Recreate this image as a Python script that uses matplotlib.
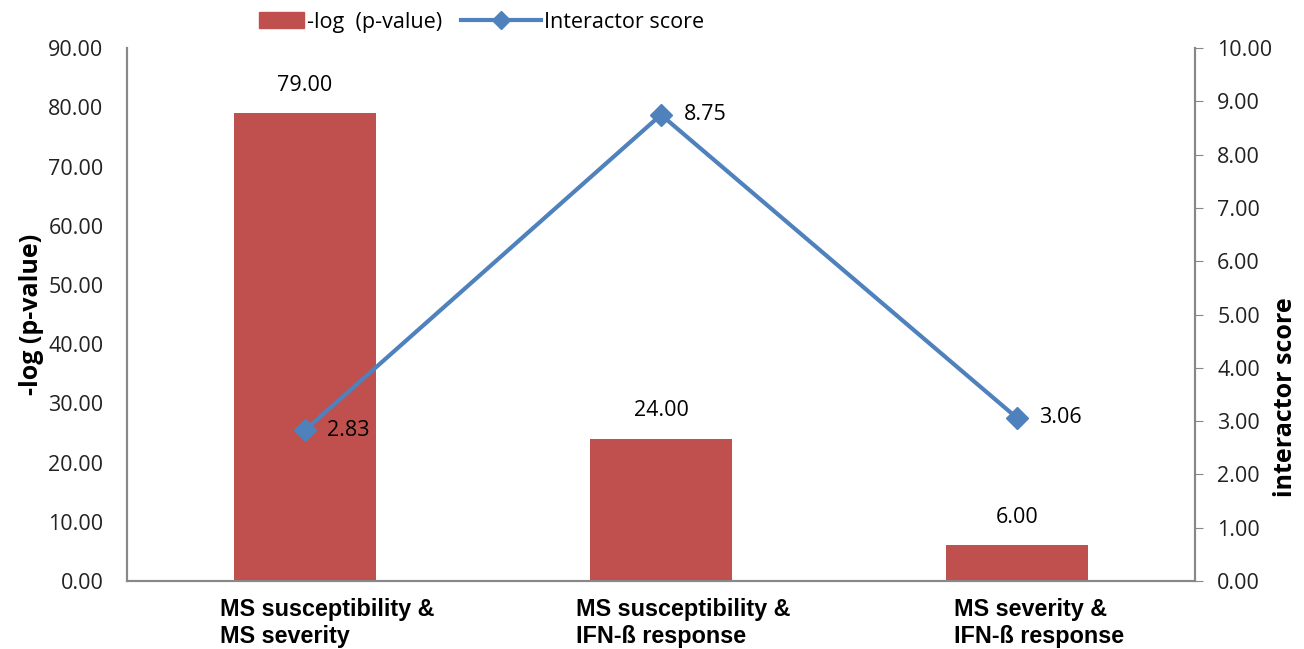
import matplotlib.pyplot as plt
import matplotlib.transforms as mtransforms
from matplotlib.lines import Line2D
from matplotlib.patches import Patch, Rectangle
from matplotlib.legend_handler import HandlerPatch

# donnees
categories = ["MS susceptibility &\nMS severity",
              "MS susceptibility &\nIFN-ß response",
              "MS severity &\nIFN-ß response"]
pvalues = [79.00, 24.00, 6.00]
scores = [2.83, 8.75, 3.06]
left_ticks = [0, 10, 20, 30, 40, 50, 60, 70, 80, 90]
right_ticks = [0, 1, 2, 3, 4, 5, 6, 7, 8, 9, 10]

bar_color = '#C0504D'
line_color = '#4F81BD'
axis_color = '#888888'
num_font = ['Open Sans', 'DejaVu Sans']
cat_font = ['Liberation Sans Narrow', 'Liberation Sans', 'DejaVu Sans']
fs = 15.5

fig = plt.figure(figsize=(13.04, 6.49), dpi=100)
ax = fig.add_axes([0.0974, 0.1048, 0.819, 0.821])
ax2 = ax.twinx()

x = list(range(len(categories)))
ax.bar(x, pvalues, width=0.4, color=bar_color, zorder=2)
ax.set_xlim(-0.5, 2.5)
ax.set_ylim(0, 90)
ax.set_yticks(left_ticks)
ax.set_yticklabels(['%.2f' % v for v in left_ticks], family=num_font, fontsize=fs, color='#222222')
ax.tick_params(axis='y', length=0, pad=17)
ax.set_xticks(x)
ax.set_xticklabels(categories, family=cat_font, fontsize=16.8, fontweight='bold',
                   multialignment='left', linespacing=1.25)
ax.tick_params(axis='x', length=0, pad=12)
offset = mtransforms.ScaledTranslation(0.22, 0, fig.dpi_scale_trans)
for lab in ax.get_xticklabels():
    lab.set_transform(lab.get_transform() + offset)

for xi, v in zip(x, pvalues):
    ax.text(xi, v + 3, '%.2f' % v, ha='center', va='bottom', family=num_font, fontsize=fs)

ax2.plot(x, scores, color=line_color, lw=3, marker='D', markersize=11, zorder=3)
ax2.set_ylim(0, 10)
ax2.set_yticks(right_ticks)
ax2.set_yticklabels(['%.2f' % v for v in right_ticks], family=num_font, fontsize=fs, color='#222222')
ax2.tick_params(axis='y', length=6, direction='out', color=axis_color, pad=10)
for xi, v in zip(x, scores):
    ax2.text(xi + 0.063, v, '%.2f' % v, ha='left', va='center', family=num_font, fontsize=fs)

ax.set_ylabel('-log (p-value)', family=num_font, fontsize=18, fontweight='bold', labelpad=3)
ax2.set_ylabel('interactor score', family=num_font, fontsize=18, fontweight='bold')
ax2.yaxis.set_label_coords(1.073, 0.345)

for a in (ax, ax2):
    a.spines['top'].set_visible(False)
    for s in ('left', 'right', 'bottom'):
        a.spines[s].set_color(axis_color)
        a.spines[s].set_linewidth(1.5)


# petit rectangle pour la legende des barres (plus court que la ligne)
def short_rect(legend, orig_handle, xdescent, ydescent, width, height, fontsize):
    w = width * 0.56
    return Rectangle((-xdescent + width - w, -ydescent), w, height)


handles = [Patch(color=bar_color),
           Line2D([0], [0], color=line_color, lw=3, marker='D', markersize=9)]
fig.legend(handles, ['-log  (p-value)', 'Interactor score'], loc='center',
           bbox_to_anchor=(0.356, 0.966), ncol=2, frameon=False,
           prop={'family': num_font, 'size': fs}, handlelength=3.7,
           handletextpad=0.15, columnspacing=0.9,
           handler_map={Patch: HandlerPatch(patch_func=short_rect)})

fig.savefig('out.png', dpi=100)
